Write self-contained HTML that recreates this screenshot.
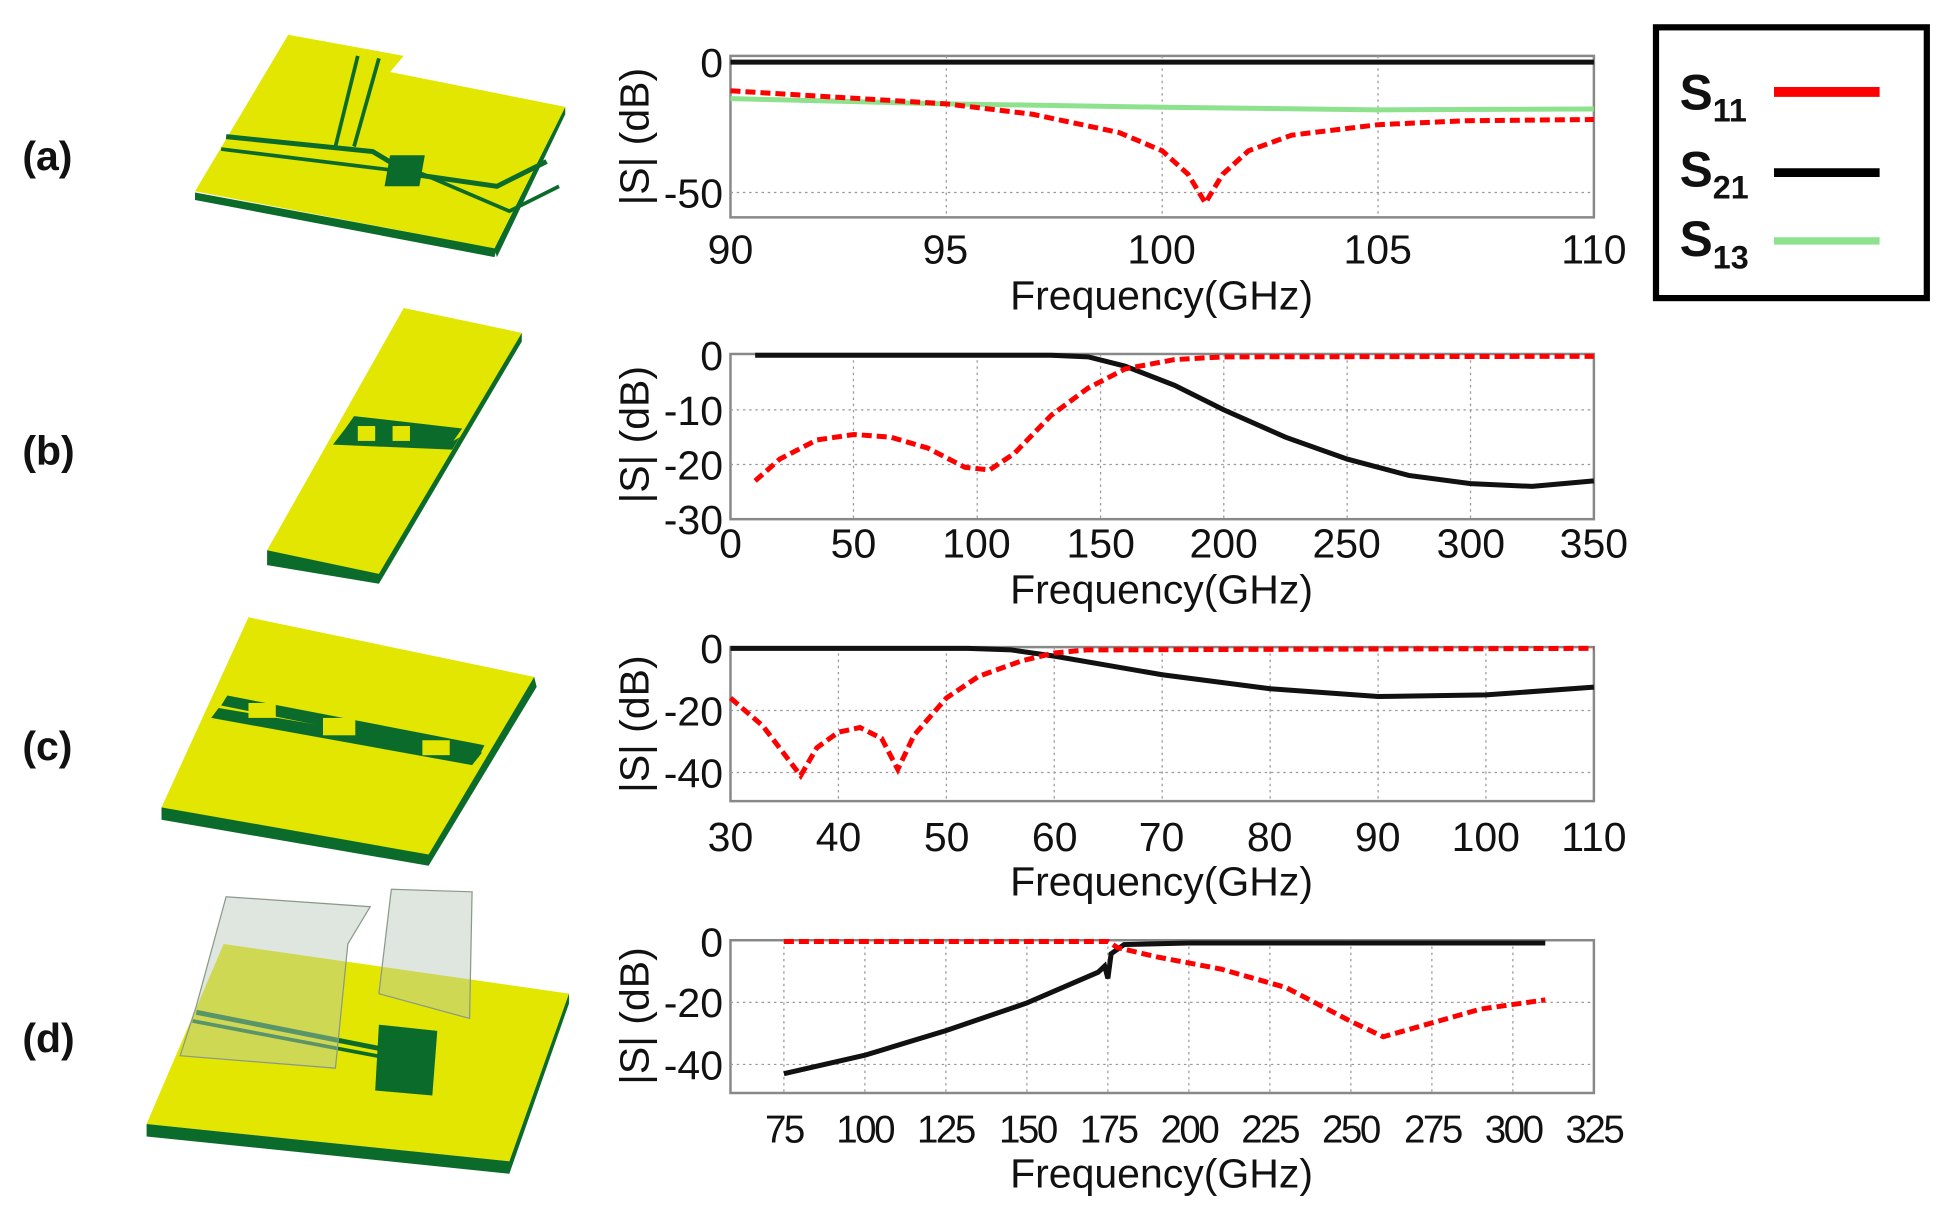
<!DOCTYPE html><html><head><meta charset="utf-8"><style>
html,body{margin:0;padding:0;background:#fff;width:1938px;height:1211px;overflow:hidden}
svg{display:block}
text{font-family:"Liberation Sans",sans-serif;fill:#111}
.t{font-size:33px}
.lab{font-size:33px;font-weight:bold}
</style></head><body>
<svg width="1938" height="1211" viewBox="0 0 1560 975" preserveAspectRatio="none">
<!-- labels -->
<text class="lab" x="18" y="137">(a)</text>
<text class="lab" x="18" y="374">(b)</text>
<text class="lab" x="18" y="612">(c)</text>
<text class="lab" x="18" y="847">(d)</text>

<!-- PCB a -->
<polygon points="157,155 157,161 398,207 400,200" fill="#0b6b2a"/>
<polygon points="398,200 455,86 455,92 400,207" fill="#0b6b2a"/>
<polygon points="157,154 232,28 325,45 314,58 455,86 398,200" fill="#e2e600"/>
<polyline points="182,110 300,122 330,140 400,150 440,130" fill="none" stroke="#0b6b2a" stroke-width="4"/>
<polyline points="178,120 340,140 410,170 450,150" fill="none" stroke="#0b6b2a" stroke-width="3"/>
<polyline points="288,45 270,118" fill="none" stroke="#0b6b2a" stroke-width="3"/>
<polyline points="305,47 285,118" fill="none" stroke="#0b6b2a" stroke-width="3"/>
<rect x="336" y="125" width="28" height="25" fill="#0b6b2a" transform="skewX(-10)"/>
<!-- PCB b -->
<polygon points="215,443 325,248 420,268 305,465" fill="#e2e600"/>
<polygon points="215,443 215,455 305,470 420,275 420,268 305,462" fill="#0b6b2a"/>
<polygon points="278,345 285,335 372,345 365,355 370,352 364,362 268,358" fill="#0b6b2a"/>
<rect x="288" y="343" width="14" height="12" fill="#e2e600"/><rect x="316" y="343" width="14" height="12" fill="#e2e600"/>
<!-- PCB c -->
<polygon points="130,650 200,497 430,545 345,690" fill="#e2e600"/>
<polygon points="130,650 130,660 345,697 432,553 430,545 345,688" fill="#0b6b2a"/>
<polygon points="178,568 183,560 390,600 385,610" fill="#0b6b2a"/>
<polygon points="170,578 176,570 388,606 380,616" fill="#0b6b2a"/>
<rect x="200" y="566" width="22" height="12" fill="#e2e600"/><rect x="260" y="578" width="26" height="14" fill="#e2e600"/><rect x="340" y="596" width="22" height="12" fill="#e2e600"/>
<!-- PCB d -->
<polygon points="118,905 180,760 458,800 410,935" fill="#e2e600"/>
<polygon points="118,905 118,915 410,945 458,808 458,800 410,935" fill="#0b6b2a"/>
<polygon points="305,825 352,830 348,882 302,878" fill="#0b6b2a"/>
<polyline points="158,815 345,852" fill="none" stroke="#0b6b2a" stroke-width="4"/>
<polyline points="155,822 345,858" fill="none" stroke="#0b6b2a" stroke-width="3"/>
<polygon points="158,810 182,722 298,730 280,760 270,860 145,850" fill="#b8c8b8" fill-opacity="0.45" stroke="#8a9a8a" stroke-width="1"/>
<polygon points="305,800 315,716 380,718 378,820" fill="#b8c8b8" fill-opacity="0.45" stroke="#8a9a8a" stroke-width="1"/>

<!-- ===== PLOT A ===== -->
<rect x="588" y="45" width="695" height="130" fill="none" stroke="#888" stroke-width="2"/>
<g stroke="#999" stroke-dasharray="2,3" stroke-width="1">
<line x1="761.75" y1="45" x2="761.75" y2="175"/><line x1="935.5" y1="45" x2="935.5" y2="175"/><line x1="1109.25" y1="45" x2="1109.25" y2="175"/>
<line x1="588" y1="155" x2="1283" y2="155"/></g>
<g transform="matrix(34.75,0,0,-2.1,-2539.5,50)" fill="none">
<polyline vector-effect="non-scaling-stroke" stroke="#8ee28e" stroke-width="5" points="90,-14 95,-16 100,-17.3 105,-18.3 110,-18"/>
<polyline vector-effect="non-scaling-stroke" stroke="#111" stroke-width="5" points="90,0 110,0"/>
<polyline vector-effect="non-scaling-stroke" stroke="#f00" stroke-width="5" stroke-dasharray="10,5" points="90,-11 92,-13 95,-16 97,-20 99,-27 100,-34 100.6,-43 101,-54 101.4,-43 102,-34 103,-28 105,-24 107,-22.5 110,-22"/>
</g>
<text class="t" x="582" y="62" text-anchor="end">0</text>
<text class="t" x="582" y="167" text-anchor="end">-50</text>
<g class="t" text-anchor="middle"><text x="588" y="212">90</text><text x="761" y="212">95</text><text x="935" y="212">100</text><text x="1109" y="212">105</text><text x="1283" y="212">110</text></g>
<text class="t" x="935" y="249" text-anchor="middle">Frequency(GHz)</text>
<text class="t" transform="translate(522,110) rotate(-90)" text-anchor="middle">|S| (dB)</text>

<!-- ===== PLOT B ===== -->
<rect x="588" y="285" width="695" height="133" fill="none" stroke="#888" stroke-width="2"/>
<g stroke="#999" stroke-dasharray="2,3" stroke-width="1">
<line x1="687" y1="285" x2="687" y2="418"/><line x1="786.6" y1="285" x2="786.6" y2="418"/><line x1="885.9" y1="285" x2="885.9" y2="418"/><line x1="985.1" y1="285" x2="985.1" y2="418"/><line x1="1084.4" y1="285" x2="1084.4" y2="418"/><line x1="1183.7" y1="285" x2="1183.7" y2="418"/>
<line x1="588" y1="330" x2="1283" y2="330"/><line x1="588" y1="374" x2="1283" y2="374"/></g>
<g transform="matrix(1.9857,0,0,-4.4,588,286)" fill="none">
<polyline vector-effect="non-scaling-stroke" stroke="#111" stroke-width="5" points="10,0 130,0 145,-0.3 160,-2 180,-5.5 200,-10 225,-15 250,-19 275,-22 300,-23.5 325,-24 350,-23"/>
<polyline vector-effect="non-scaling-stroke" stroke="#f00" stroke-width="5" stroke-dasharray="10,5" points="10,-23 20,-19 35,-15.5 50,-14.5 65,-15 80,-17 95,-20.5 105,-21 115,-18 130,-11 145,-6 160,-2.5 180,-0.8 200,-0.3 350,-0.2"/>
</g>
<g class="t" text-anchor="end"><text x="582" y="298">0</text><text x="582" y="342">-10</text><text x="582" y="386">-20</text><text x="582" y="430">-30</text></g>
<g class="t" text-anchor="middle"><text x="588" y="449">0</text><text x="687" y="449">50</text><text x="786" y="449">100</text><text x="886" y="449">150</text><text x="985" y="449">200</text><text x="1084" y="449">250</text><text x="1184" y="449">300</text><text x="1283" y="449">350</text></g>
<text class="t" x="935" y="486" text-anchor="middle">Frequency(GHz)</text>
<text class="t" transform="translate(522,350) rotate(-90)" text-anchor="middle">|S| (dB)</text>

<!-- ===== PLOT C ===== -->
<rect x="588" y="521" width="695" height="124" fill="none" stroke="#888" stroke-width="2"/>
<g stroke="#999" stroke-dasharray="2,3" stroke-width="1">
<line x1="674.9" y1="521" x2="674.9" y2="645"/><line x1="761.8" y1="521" x2="761.8" y2="645"/><line x1="848.6" y1="521" x2="848.6" y2="645"/><line x1="935.5" y1="521" x2="935.5" y2="645"/><line x1="1022.4" y1="521" x2="1022.4" y2="645"/><line x1="1109.3" y1="521" x2="1109.3" y2="645"/><line x1="1196.1" y1="521" x2="1196.1" y2="645"/>
<line x1="588" y1="572" x2="1283" y2="572"/><line x1="588" y1="622" x2="1283" y2="622"/></g>
<g transform="matrix(8.6875,0,0,-2.5,327.4,522)" fill="none">
<polyline vector-effect="non-scaling-stroke" stroke="#111" stroke-width="5" points="30,0 52,0 56,-0.5 60,-2.5 65,-5.5 70,-8.5 80,-13 90,-15.5 100,-15 110,-12.5"/>
<polyline vector-effect="non-scaling-stroke" stroke="#f00" stroke-width="5" stroke-dasharray="10,5" points="30,-16 33,-25 36.5,-41 38,-32 40,-27 42,-25.5 44,-29 45.5,-39 47,-28 50,-16 53,-9 57,-4 60,-1.5 63,-0.5 110,0"/>
</g>
<g class="t" text-anchor="end"><text x="582" y="534">0</text><text x="582" y="584">-20</text><text x="582" y="634">-40</text></g>
<g class="t" text-anchor="middle"><text x="588" y="685">30</text><text x="675" y="685">40</text><text x="762" y="685">50</text><text x="849" y="685">60</text><text x="935" y="685">70</text><text x="1022" y="685">80</text><text x="1109" y="685">90</text><text x="1196" y="685">100</text><text x="1283" y="685">110</text></g>
<text class="t" x="935" y="721" text-anchor="middle">Frequency(GHz)</text>
<text class="t" transform="translate(522,583) rotate(-90)" text-anchor="middle">|S| (dB)</text>

<!-- ===== PLOT D ===== -->
<rect x="588" y="757" width="695" height="123" fill="none" stroke="#888" stroke-width="2"/>
<g stroke="#999" stroke-dasharray="2,3" stroke-width="1">
<line x1="631" y1="757" x2="631" y2="880"/><line x1="696.2" y1="757" x2="696.2" y2="880"/><line x1="761.4" y1="757" x2="761.4" y2="880"/><line x1="826.6" y1="757" x2="826.6" y2="880"/><line x1="891.8" y1="757" x2="891.8" y2="880"/><line x1="957" y1="757" x2="957" y2="880"/><line x1="1022.2" y1="757" x2="1022.2" y2="880"/><line x1="1087.4" y1="757" x2="1087.4" y2="880"/><line x1="1152.6" y1="757" x2="1152.6" y2="880"/><line x1="1217.8" y1="757" x2="1217.8" y2="880"/>
<line x1="588" y1="807" x2="1283" y2="807"/><line x1="588" y1="857" x2="1283" y2="857"/></g>
<g transform="matrix(2.608,0,0,-2.475,435.4,758)" fill="none">
<polyline vector-effect="non-scaling-stroke" stroke="#111" stroke-width="5" points="75,-43 100,-37 125,-29 150,-20 172,-10 174,-8 175,-12 176,-4 180,-1 200,-0.5 310,-0.5"/>
<polyline vector-effect="non-scaling-stroke" stroke="#f00" stroke-width="5" stroke-dasharray="10,5" points="75,0 175,0 178,-2 190,-5 210,-9 230,-15 250,-26 260,-31 270,-28 290,-22 310,-19"/>
</g>
<g class="t" text-anchor="end"><text x="582" y="770">0</text><text x="582" y="819">-20</text><text x="582" y="869">-40</text></g>
<g class="t" text-anchor="middle" style="font-size:31px;letter-spacing:-2px"><text x="631" y="920">75</text><text x="696" y="920">100</text><text x="761" y="920">125</text><text x="827" y="920">150</text><text x="892" y="920">175</text><text x="957" y="920">200</text><text x="1022" y="920">225</text><text x="1087" y="920">250</text><text x="1153" y="920">275</text><text x="1218" y="920">300</text><text x="1283" y="920">325</text></g>
<text class="t" x="935" y="956" text-anchor="middle">Frequency(GHz)</text>
<text class="t" transform="translate(522,818) rotate(-90)" text-anchor="middle">|S| (dB)</text>

<!-- Legend -->
<rect x="1333" y="22" width="218" height="218" fill="#fff" stroke="#000" stroke-width="5"/>
<g style="font-size:40px;font-weight:bold">
<text x="1352" y="88">S<tspan style="font-size:26px" dy="10">11</tspan></text>
<text x="1352" y="150">S<tspan style="font-size:26px" dy="10">21</tspan></text>
<text x="1352" y="206">S<tspan style="font-size:26px" dy="10">13</tspan></text>
</g>
<line x1="1428" y1="74" x2="1513" y2="74" stroke="#f00" stroke-width="8"/>
<line x1="1428" y1="139" x2="1513" y2="139" stroke="#000" stroke-width="7"/>
<line x1="1428" y1="194" x2="1513" y2="194" stroke="#8ee28e" stroke-width="6"/>
</svg>
</body></html>
